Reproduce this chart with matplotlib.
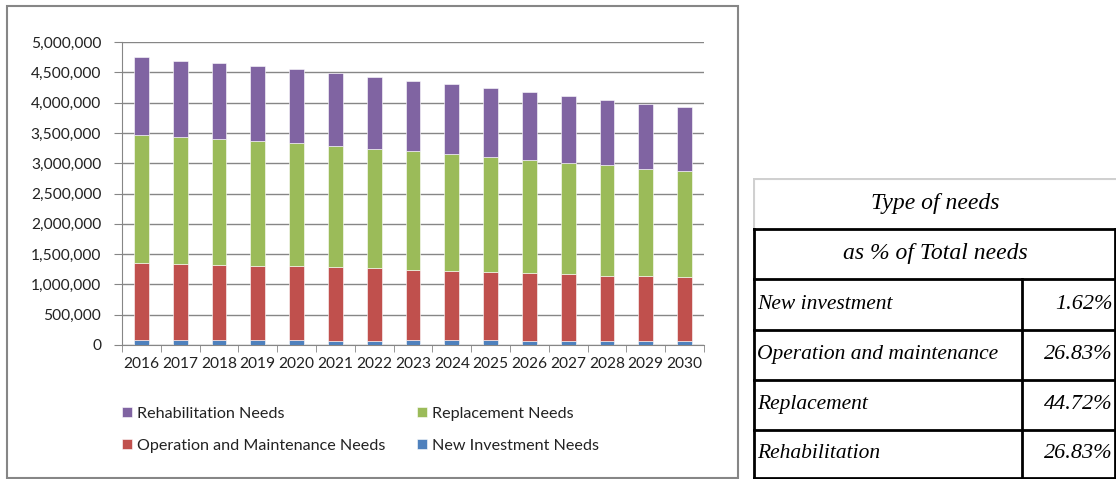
import matplotlib
matplotlib.use("Agg")
import matplotlib.pyplot as plt
from matplotlib.patches import Rectangle
from matplotlib.lines import Line2D
from matplotlib.ticker import FuncFormatter, FixedLocator, MultipleLocator
import numpy as np

years = [str(y) for y in range(2016, 2031)]
new_investment = [87000, 87000, 87000, 87000, 87000, 71000, 71000, 82000, 82000, 82000, 66000, 66000, 66000, 66000, 66000]
operation_maintenance = [1261000, 1250000, 1233000, 1223000, 1220000, 1216000, 1199000, 1161000, 1144000, 1128000, 1122000, 1104000, 1078000, 1067000, 1056000]
replacement = [2122000, 2093000, 2080000, 2050000, 2023000, 1997000, 1970000, 1957000, 1920000, 1890000, 1859000, 1833000, 1821000, 1777000, 1744000]
rehabilitation = [1277000, 1260000, 1253000, 1238000, 1221000, 1204000, 1177000, 1162000, 1161000, 1140000, 1128000, 1100000, 1083000, 1067000, 1056000]

series_labels = ["New Investment Needs", "Operation and Maintenance Needs", "Replacement Needs", "Rehabilitation Needs"]
colors = ["#4F81BD", "#C0504D", "#9BBB59", "#8064A2"]

table_header = ["Type of needs", "as % of Total needs"]
table_rows = ["New investment", "Operation and maintenance", "Replacement", "Rehabilitation"]
table_values = ["1.62%", "26.83%", "44.72%", "26.83%"]

W, H = 1116, 479
fig = plt.figure(figsize=(W / 100, H / 100), dpi=100)
fig.patch.set_facecolor("white")

tick_font = "Lato"
fs = 11.2

# chart border
fig.patches.append(Rectangle((7 / W, 1 - 478 / H), (738 - 7) / W, (478 - 6) / H,
                             transform=fig.transFigure, fill=False, edgecolor="#868686", lw=1.5))

ax = fig.add_axes([122 / W, (H - 345) / H, (704 - 122) / W, (345 - 42) / H])
x = np.arange(len(years))
data = [new_investment, operation_maintenance, replacement, rehabilitation]
bottom = np.zeros(len(years))
handles = []
for vals, col, lab in zip(data, colors, series_labels):
    b = ax.bar(x, vals, width=0.38, bottom=bottom, color=col, label=lab, zorder=3,
               edgecolor="white", linewidth=0.4)
    handles.append(b)
    bottom = bottom + np.array(vals)

ax.set_xlim(-0.5, len(years) - 0.5)
ax.set_ylim(0, 5000000)
ax.yaxis.set_major_locator(MultipleLocator(500000))
ax.yaxis.set_major_formatter(FuncFormatter(lambda v, p: f"{int(v):,}"))
ax.grid(axis="y", color="#868686", lw=1, zorder=0)
for s in ["top", "right"]:
    ax.spines[s].set_visible(False)
ax.spines["left"].set_color("#868686")
ax.spines["bottom"].set_color("#868686")
ax.tick_params(axis="y", length=6, color="#868686", pad=9, labelsize=fs, labelcolor="#222222")
ax.set_xticks(x)
ax.set_xticklabels(years)
ax.tick_params(axis="x", which="major", length=0, pad=9, labelsize=fs, labelcolor="#222222")
ax.xaxis.set_minor_locator(FixedLocator(np.arange(-0.5, len(years), 1.0)))
ax.tick_params(axis="x", which="minor", length=5, color="#868686")
for lbl in ax.get_xticklabels() + ax.get_yticklabels():
    lbl.set_fontfamily(tick_font)

leg_order = [handles[3], handles[1], handles[2], handles[0]]
leg = fig.legend(leg_order, [h.get_label() for h in leg_order], ncol=2, frameon=False,
                 loc="upper left", bbox_to_anchor=(114 / W, 1 - 399 / H),
                 prop={"family": tick_font, "size": 11.6}, borderpad=0,
                 handlelength=0.6, handleheight=0.6, handletextpad=0.3,
                 columnspacing=2.0, labelspacing=1.1)
for t in leg.get_texts():
    t.set_color("#222222")

# table
tax = fig.add_axes([753 / W, 0, (W - 753) / W, (H - 178) / H])
tax.set_xlim(753, W)
tax.set_ylim(H, 178)
tax.axis("off")
row_edges = [178, 229, 279, 330, 380, 430, 478]
serif = dict(family="Liberation Serif", style="italic", color="black")
tax.add_line(Line2D([753, W], [179, 179], color="#d0d0d0", lw=1.5))
tax.add_line(Line2D([754, 754], [179, 229], color="#d0d0d0", lw=1.5))
for yy in row_edges[1:]:
    tax.add_line(Line2D([753, W], [yy, yy], color="black", lw=2))
tax.add_line(Line2D([754, 754], [229, 478], color="black", lw=2))
tax.add_line(Line2D([1022, 1022], [279, 478], color="black", lw=2))
tax.add_line(Line2D([W - 1, W - 1], [229, 478], color="black", lw=2))
for i, txt in enumerate(table_header):
    yc = (row_edges[i] + row_edges[i + 1]) / 2
    tax.text(935, yc, txt, ha="center", va="center", fontsize=17, **serif)
for i, (lab, val) in enumerate(zip(table_rows, table_values)):
    yc = (row_edges[i + 2] + row_edges[i + 3]) / 2
    tax.text(757, yc, lab, ha="left", va="center", fontsize=15.5, **serif)
    tax.text(1113, yc, val, ha="right", va="center", fontsize=16, **serif)

fig.savefig("out.png", dpi=100)
